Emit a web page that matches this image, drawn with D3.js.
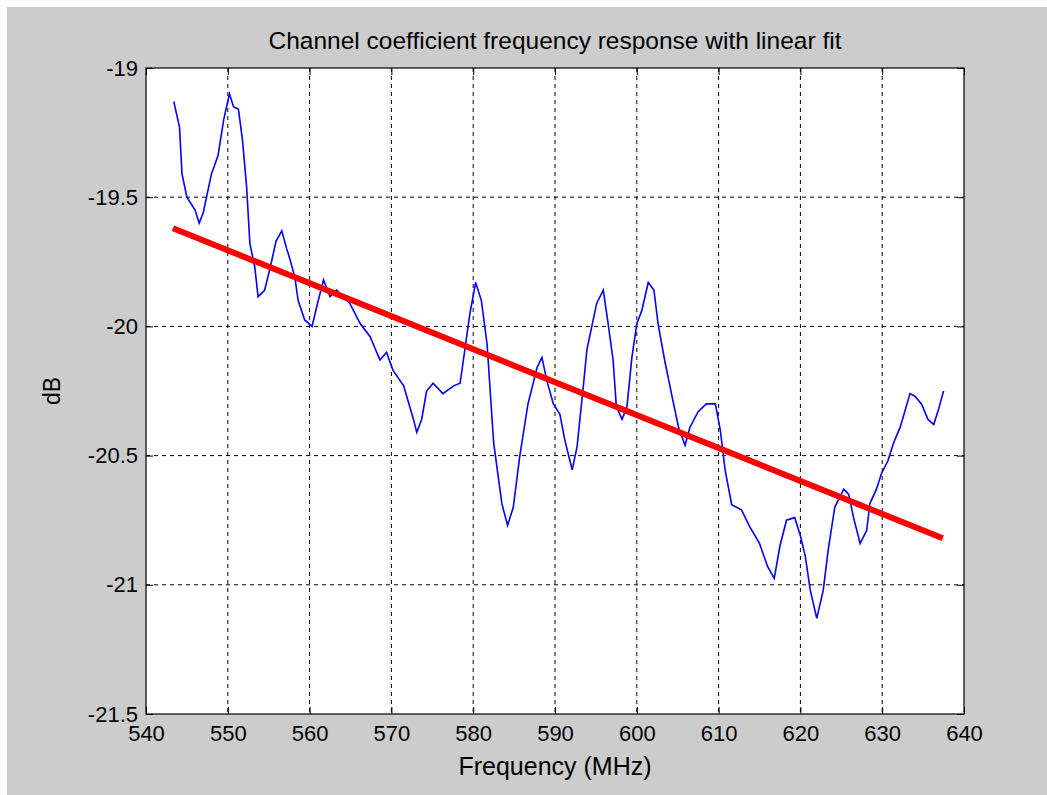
<!DOCTYPE html>
<html lang="en">
<head>
    <meta charset="UTF-8">
    <title>Channel coefficient frequency response with linear fit</title>
    <script src="https://d3js.org/d3.v7.min.js"></script>
    <style>
        html, body { margin: 0; padding: 0; background: #fff; }
        svg { display: block; }
        text { font-family: "Liberation Sans", Arial, sans-serif; fill: #000; }
        .grid line { stroke: #000; stroke-width: 1; stroke-dasharray: 4,4; }
    </style>
</head>
<body>
<script>
    var freq = [543.4, 544.1, 544.4, 545.0, 546.0, 546.5, 547.0, 548.0, 548.8, 549.5,
        550.2, 550.7, 551.3, 551.8, 552.3, 552.7, 553.3, 553.7, 554.5, 555.2,
        555.9, 556.6, 557.2, 557.6, 558.2, 558.6, 559.4, 560.3, 560.9, 561.7,
        562.5, 563.3, 564.1, 564.9, 566.2, 567.4, 568.6, 569.4, 570.2, 571.5,
        572.7, 573.1, 573.7, 574.3, 575.1, 576.3, 577.6, 578.4, 578.8, 579.6,
        580.3, 581.0, 581.7, 582.5, 583.5, 584.2, 584.9, 585.7, 586.7, 587.8,
        588.4, 589.0, 589.8, 590.6, 591.2, 592.1, 592.7, 593.5, 593.9, 594.5,
        595.1, 595.9, 596.5, 597.1, 597.5, 598.2, 598.8, 599.4, 600.0, 600.6,
        601.4, 602.1, 602.6, 603.4, 604.3, 605.1, 605.9, 606.5, 607.5, 608.5,
        609.6, 610.2, 610.8, 611.6, 612.8, 613.8, 615.0, 616.0, 616.8, 617.5,
        618.3, 619.3, 620.0, 620.6, 621.2, 622.0, 622.8, 623.4, 624.2, 625.3,
        625.9, 626.5, 627.3, 628.1, 628.5, 629.3, 629.9, 630.7, 631.4, 632.2,
        633.4, 634.0, 634.8, 635.6, 636.3, 636.9, 637.5];
    var gainDb = [-19.13, -19.23, -19.41, -19.50, -19.55, -19.60, -19.56, -19.41, -19.34, -19.20,
        -19.10, -19.15, -19.16, -19.28, -19.46, -19.68, -19.77, -19.885, -19.86, -19.77,
        -19.67, -19.63, -19.70, -19.74, -19.81, -19.90, -19.975, -20.00, -19.92, -19.82,
        -19.885, -19.86, -19.885, -19.91, -19.99, -20.04, -20.13, -20.10, -20.17, -20.23,
        -20.36, -20.41, -20.36, -20.25, -20.22, -20.26, -20.23, -20.22, -20.13, -19.95,
        -19.83, -19.90, -20.07, -20.45, -20.685, -20.77, -20.70, -20.50, -20.30, -20.16,
        -20.12, -20.21, -20.30, -20.34, -20.44, -20.555, -20.465, -20.22, -20.09, -20.00,
        -19.91, -19.86, -19.99, -20.13, -20.31, -20.36, -20.31, -20.12, -19.99, -19.94,
        -19.83, -19.86, -19.99, -20.13, -20.27, -20.39, -20.46, -20.39, -20.33, -20.30,
        -20.30, -20.40, -20.556, -20.69, -20.71, -20.775, -20.84, -20.93, -20.975, -20.85,
        -20.75, -20.74, -20.81, -20.89, -21.02, -21.13, -21.02, -20.865, -20.70, -20.63,
        -20.65, -20.74, -20.84, -20.79, -20.685, -20.63, -20.57, -20.52, -20.45, -20.39,
        -20.26, -20.27, -20.30, -20.36, -20.38, -20.32, -20.25];

    // Linear fit end points
    var fitFreq = [543.3, 637.4];
    var fitDb = [-19.62, -20.82];

    var xTicks = [540, 550, 560, 570, 580, 590, 600, 610, 620, 630, 640];
    var yTicks = [-19, -19.5, -20, -20.5, -21, -21.5];

    var W = 1047, H = 795;
    var margin = {top: 68, right: 83, bottom: 81, left: 146};
    var width = W - margin.left - margin.right,
        height = H - margin.top - margin.bottom;

    var svg = d3.select("body").append("svg")
        .attr("width", W)
        .attr("height", H);

    // grey figure background with thin white strip top/left
    svg.append("rect")
        .attr("x", 7).attr("y", 7)
        .attr("width", W - 7).attr("height", H - 7)
        .attr("fill", "#cccccc");

    var g = svg.append("g")
        .attr("transform", "translate(" + margin.left + "," + margin.top + ")");

    var x = d3.scaleLinear().domain([540, 640]).range([0, width]);
    var y = d3.scaleLinear().domain([-21.5, -19]).range([height, 0]);

    g.append("rect")
        .attr("width", width).attr("height", height)
        .attr("fill", "#fff");

    // Grid lines
    var grid = g.append("g").attr("class", "grid");
    grid.selectAll(".gx")
        .data(xTicks.slice(1, -1))
        .enter().append("line")
        .attr("x1", function(d) { return x(d); })
        .attr("x2", function(d) { return x(d); })
        .attr("y1", 0).attr("y2", height);
    grid.selectAll(".gy")
        .data(yTicks.slice(1, -1))
        .enter().append("line")
        .attr("y1", function(d) { return y(d); })
        .attr("y2", function(d) { return y(d); })
        .attr("x1", 0).attr("x2", width);

    var line = d3.line()
        .x(function(d) { return x(d[0]); })
        .y(function(d) { return y(d[1]); });

    g.append("path")
        .datum(d3.zip(freq, gainDb))
        .attr("fill", "none")
        .attr("stroke", "#0000ff")
        .attr("stroke-width", 1.6)
        .attr("d", line);

    g.append("path")
        .datum(d3.zip(fitFreq, fitDb))
        .attr("fill", "none")
        .attr("stroke", "#ff0000")
        .attr("stroke-width", 6)
        .attr("d", line);

    // Axes (MATLAB style: ticks inside, box on)
    var tickLen = 7;
    var xAxis = g.append("g")
        .attr("transform", "translate(0," + height + ")")
        .call(d3.axisBottom(x).tickValues(xTicks).tickSizeInner(-tickLen).tickSizeOuter(0).tickPadding(11));
    var yAxis = g.append("g")
        .call(d3.axisLeft(y).tickValues(yTicks).tickSizeInner(-tickLen).tickSizeOuter(0).tickPadding(8)
            .tickFormat(function(d) { return String(d); }));
    g.append("g")
        .call(d3.axisTop(x).tickValues(xTicks).tickSizeInner(-tickLen).tickSizeOuter(0).tickFormat(""));
    g.append("g")
        .attr("transform", "translate(" + width + ",0)")
        .call(d3.axisRight(y).tickValues(yTicks).tickSizeInner(-tickLen).tickSizeOuter(0).tickFormat(""));

    g.selectAll(".domain").remove();
    g.selectAll(".tick line").attr("stroke", "#000").attr("stroke-width", 1);
    xAxis.selectAll("text").style("font-size", "22px").attr("dy", "0.71em");
    yAxis.selectAll("text").style("font-size", "22px");

    g.append("rect")
        .attr("width", width).attr("height", height)
        .attr("fill", "none")
        .attr("stroke", "#000")
        .attr("stroke-width", 1.2);

    // Labels
    svg.append("text")
        .attr("x", margin.left + width / 2)
        .attr("y", 49)
        .attr("text-anchor", "middle")
        .style("font-size", "24.5px")
        .text("Channel coefficient frequency response with linear fit");

    svg.append("text")
        .attr("x", margin.left + width / 2)
        .attr("y", 775)
        .attr("text-anchor", "middle")
        .style("font-size", "25px")
        .text("Frequency (MHz)");

    svg.append("text")
        .attr("transform", "translate(60," + (margin.top + height / 2) + ") rotate(-90)")
        .attr("text-anchor", "middle")
        .style("font-size", "23px")
        .text("dB");
</script>
</body>
</html>
